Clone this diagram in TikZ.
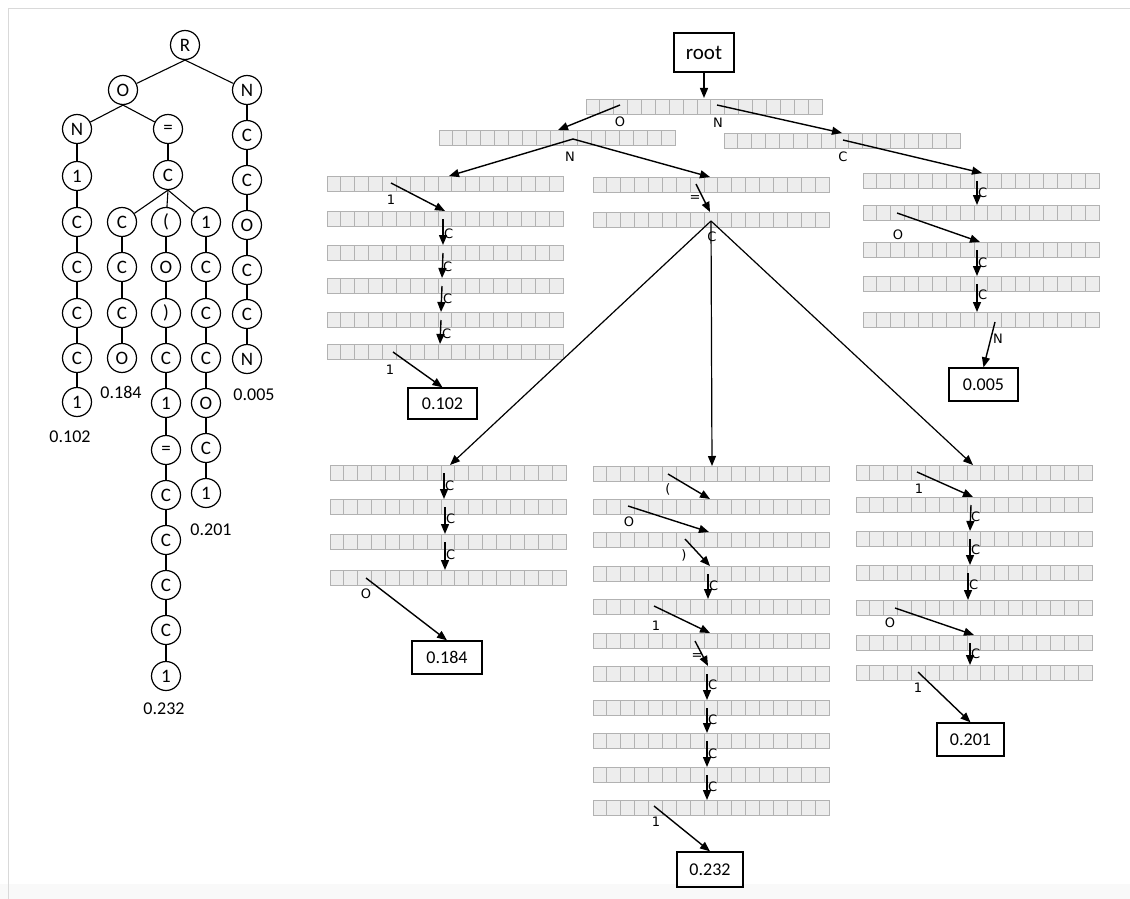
\documentclass[tikz,border=0pt]{standalone}
\usepackage{fontspec}
\setmainfont{Carlito}
\newfontfamily\lblfont{DejaVu Sans}
\usetikzlibrary{arrows.meta}
\newcommand\arr[2]{\foreach \i in {0,...,16}{\draw[cellst] ({#1+\i*13.88},#2) rectangle ++(13.88,15);}}
\begin{document}
\begin{tikzpicture}[x=1pt,y=-1pt,
 tn/.style={circle,draw,line width=1.2pt,minimum size=29pt,inner sep=0pt,font=\fontsize{19}{19}\selectfont},
 te/.style={line width=1.1pt},
 val/.style={font=\fontsize{18}{18}\selectfont,inner sep=0pt},
 vbox/.style={draw,line width=1.3pt,inner sep=0pt,font=\fontsize{18}{18}\selectfont},
 cellst/.style={draw=gray!60,fill=gray!14,line width=0.9pt},
 ar/.style={line width=1.4pt,-{Triangle[length=10pt,width=8pt]}},
 ln/.style={line width=1.2pt,-{Triangle[length=10pt,width=8pt]}},
 lb/.style={font=\lblfont\fontsize{13}{13}\selectfont,inner sep=0pt},
]
\useasboundingbox (0,0) rectangle (1130,899);
\fill[gray!5] (0,884) rectangle (1130,899);
\draw[gray!30,line width=1pt] (8,899) -- (8,9) -- (1130,9);

% ---------- left tree ----------
\node[tn] (R) at (185,45) {R};
\node[tn] (O) at (123,90) {O};
\node[tn] (e1) at (247,90) {N};
\node[tn] (a0) at (77,129) {N};
\node[tn] (eq) at (168,129) {=};
\node[tn] (a1) at (77,176) {1};
\node[tn] (a2) at (77,222) {C};
\node[tn] (a3) at (77,267) {C};
\node[tn] (a4) at (77,313) {C};
\node[tn] (a5) at (77,358) {C};
\node[tn] (a6) at (77,402) {1};
\node[val] (va) at (70,437) {0.102};
\node[tn] (c0) at (168,175) {C};
\node[tn] (b1) at (122,222) {C};
\node[tn] (b2) at (122,267) {C};
\node[tn] (b3) at (122,313) {C};
\node[tn] (b4) at (122,358) {O};
\node[val] (vb) at (121,392) {0.184};
\node[tn] (c1) at (166,222) {(};
\node[tn] (c2) at (166,267) {O};
\node[tn] (c3) at (166,313) {)};
\node[tn] (c4) at (166,358) {C};
\node[tn] (c5) at (166,403) {1};
\node[tn] (c6) at (166,450) {=};
\node[tn] (c7) at (166,495) {C};
\node[tn] (c8) at (166,540) {C};
\node[tn] (c9) at (166,585) {C};
\node[tn] (c10) at (166,630) {C};
\node[tn] (c11) at (166,676) {1};
\node[val] (vc) at (164,709) {0.232};
\node[tn] (d1) at (206,222) {1};
\node[tn] (d2) at (206,267) {C};
\node[tn] (d3) at (206,313) {C};
\node[tn] (d4) at (206,358) {C};
\node[tn] (d5) at (206,403) {O};
\node[tn] (d6) at (206,448) {C};
\node[tn] (d7) at (206,493) {1};
\node[val] (vd) at (211,530) {0.201};
\node[tn] (e2) at (247,135) {C};
\node[tn] (e3) at (247,180) {C};
\node[tn] (e4) at (247,225) {O};
\node[tn] (e5) at (247,270) {C};
\node[tn] (e6) at (247,314) {C};
\node[tn] (e7) at (247,359) {N};
\node[val] (ve) at (254,395) {0.005};

\draw[te] (R.south) -- (O);
\draw[te] (R.south) -- (e1);
\draw[te] (O.south) -- (a0);
\draw[te] (O.south) -- (eq);
\draw[te] (a0) -- (a1) -- (a2) -- (a3) -- (a4) -- (a5) -- (a6);
\draw[te] (eq) -- (c0);
\draw[te] (c0.south) -- (b1);
\draw[te] (c0.south) -- (c1);
\draw[te] (c0.south) -- (d1);
\draw[te] (b1) -- (b2) -- (b3) -- (b4);
\draw[te] (c1) -- (c2) -- (c3) -- (c4) -- (c5) -- (c6) -- (c7) -- (c8) -- (c9) -- (c10) -- (c11);
\draw[te] (d1) -- (d2) -- (d3) -- (d4) -- (d5) -- (d6) -- (d7);
\draw[te] (e1) -- (e2) -- (e3) -- (e4) -- (e5) -- (e6) -- (e7);

% ---------- right: arrays ----------
\node[draw,line width=1.3pt,minimum width=60pt,minimum height=39pt,inner sep=0pt,font=\fontsize{21}{21}\selectfont] (root) at (704,52.5) {root};
\node[vbox,minimum width=69pt,minimum height=31pt] (b102) at (442.5,403.5) {0.102};
\node[vbox,minimum width=69pt,minimum height=33pt] (b005) at (983.5,384.5) {0.005};
\node[vbox,minimum width=70pt,minimum height=33pt] (b184) at (447,657.5) {0.184};
\node[vbox,minimum width=66pt,minimum height=35pt] (b232) at (710,869.5) {0.232};
\node[vbox,minimum width=67pt,minimum height=33pt] (b201) at (970.5,739.5) {0.201};

\arr{586}{99}
\arr{439}{130}
\arr{724}{133}
\foreach \y in {176,211,245,278,312,344} {\arr{327}{\y}}
\foreach \y in {177,212} {\arr{593}{\y}}
\foreach \y in {173,205,242,276,312} {\arr{863}{\y}}
\foreach \y in {465,499,534,570} {\arr{330}{\y}}
\foreach \y in {466,499,532,566,599,633,666,700,733,767,800} {\arr{593}{\y}}
\foreach \y in {465,497,531,565,600,635,665} {\arr{856}{\y}}

% top level
\coordinate (t0) at (704,98);
\draw[ar] (root.south) -- (t0);
\draw[ar] (620,105) -- (558,130); \node[lb] at (620,122) {O};
\draw[ar] (717,105) -- (842,133); \node[lb] at (718,123) {N};
\draw[ar] (573,139) -- (449,176);
\draw[ar] (573,139) -- (710,177); \node[lb] at (570,157) {N};
\draw[ar] (843,140) -- (982,173); \node[lb] at (843,157) {C};

% branch 0.102
\draw[ar] (391,183) -- (445,211); \node[lb] at (391,200) {1};
\draw[ar] (443,219) -- (443,245); \node[lb,anchor=west] at (444,234) {C};
\draw[ar] (443,253) -- (442,278); \node[lb,anchor=west] at (443,267) {C};
\draw[ar] (442,286) -- (441,312); \node[lb,anchor=west] at (443,299) {C};
\draw[ar] (441,320) -- (440,344); \node[lb,anchor=west] at (442,334) {C};
\draw[ar] (393,352) -- (b102.north); \node[lb] at (390,370) {1};

% branch =
\draw[ar] (696,184) -- (710,212); \node[lb] at (695,199) {=};
\coordinate (apex) at (711,221);
\node[lb] at (712,237) {C};
\draw[ln] (apex) -- (450,465);
\draw[ln] (apex) -- (712,466);
\draw[ln] (apex) -- (973,465);

% branch 0.005
\draw[ar] (977,181) -- (977,205); \node[lb,anchor=west] at (978,193) {C};
\draw[ar] (897,213) -- (980,242); \node[lb] at (898,235) {O};
\draw[ar] (977,250) -- (977,276); \node[lb,anchor=west] at (978,263) {C};
\draw[ar] (977,284) -- (977,312); \node[lb,anchor=west] at (978,295) {C};
\draw[ar] (995,322) -- (b005.north); \node[lb] at (998,339) {N};

% branch 0.184
\draw[ar] (444,473) -- (444,499); \node[lb,anchor=west] at (445,486) {C};
\draw[ar] (445,507) -- (445,534); \node[lb,anchor=west] at (446,519) {C};
\draw[ar] (445,542) -- (445,570); \node[lb,anchor=west] at (446,555) {C};
\draw[ar] (366,578) -- (b184.north); \node[lb] at (366,594) {O};

% branch 0.232
\draw[ar] (668,474) -- (710,499); \node[lb] at (668,489) {(};
\draw[ar] (628,506) -- (709,532); \node[lb] at (629,522) {O};
\draw[ar] (685,539) -- (710,566); \node[lb] at (684,555) {)};
\draw[ar] (708,574) -- (708,599); \node[lb,anchor=west] at (709,586) {C};
\draw[ar] (654,606) -- (710,633); \node[lb] at (656,626) {1};
\draw[ar] (695,641) -- (708,666); \node[lb] at (697,657) {=};
\draw[ar] (707,674) -- (707,700); \node[lb,anchor=west] at (708,685) {C};
\draw[ar] (707,708) -- (707,733); \node[lb,anchor=west] at (708,720) {C};
\draw[ar] (707,741) -- (707,767); \node[lb,anchor=west] at (708,754) {C};
\draw[ar] (707,775) -- (707,800); \node[lb,anchor=west] at (708,787) {C};
\draw[ar] (654,806) -- (b232.north); \node[lb] at (656,822) {1};

% branch 0.201
\draw[ar] (917,472) -- (973,497); \node[lb] at (919,489) {1};
\draw[ar] (971,505) -- (970,531); \node[lb,anchor=west] at (971,517) {C};
\draw[ar] (970,539) -- (970,565); \node[lb,anchor=west] at (971,550) {C};
\draw[ar] (968,573) -- (968,600); \node[lb,anchor=west] at (969,585) {C};
\draw[ar] (895,608) -- (974,635); \node[lb] at (890,623) {O};
\draw[ar] (970,643) -- (970,665); \node[lb,anchor=west] at (971,654) {C};
\draw[ar] (918,672) -- (b201.north); \node[lb] at (918,688) {1};
\end{tikzpicture}
\end{document}
